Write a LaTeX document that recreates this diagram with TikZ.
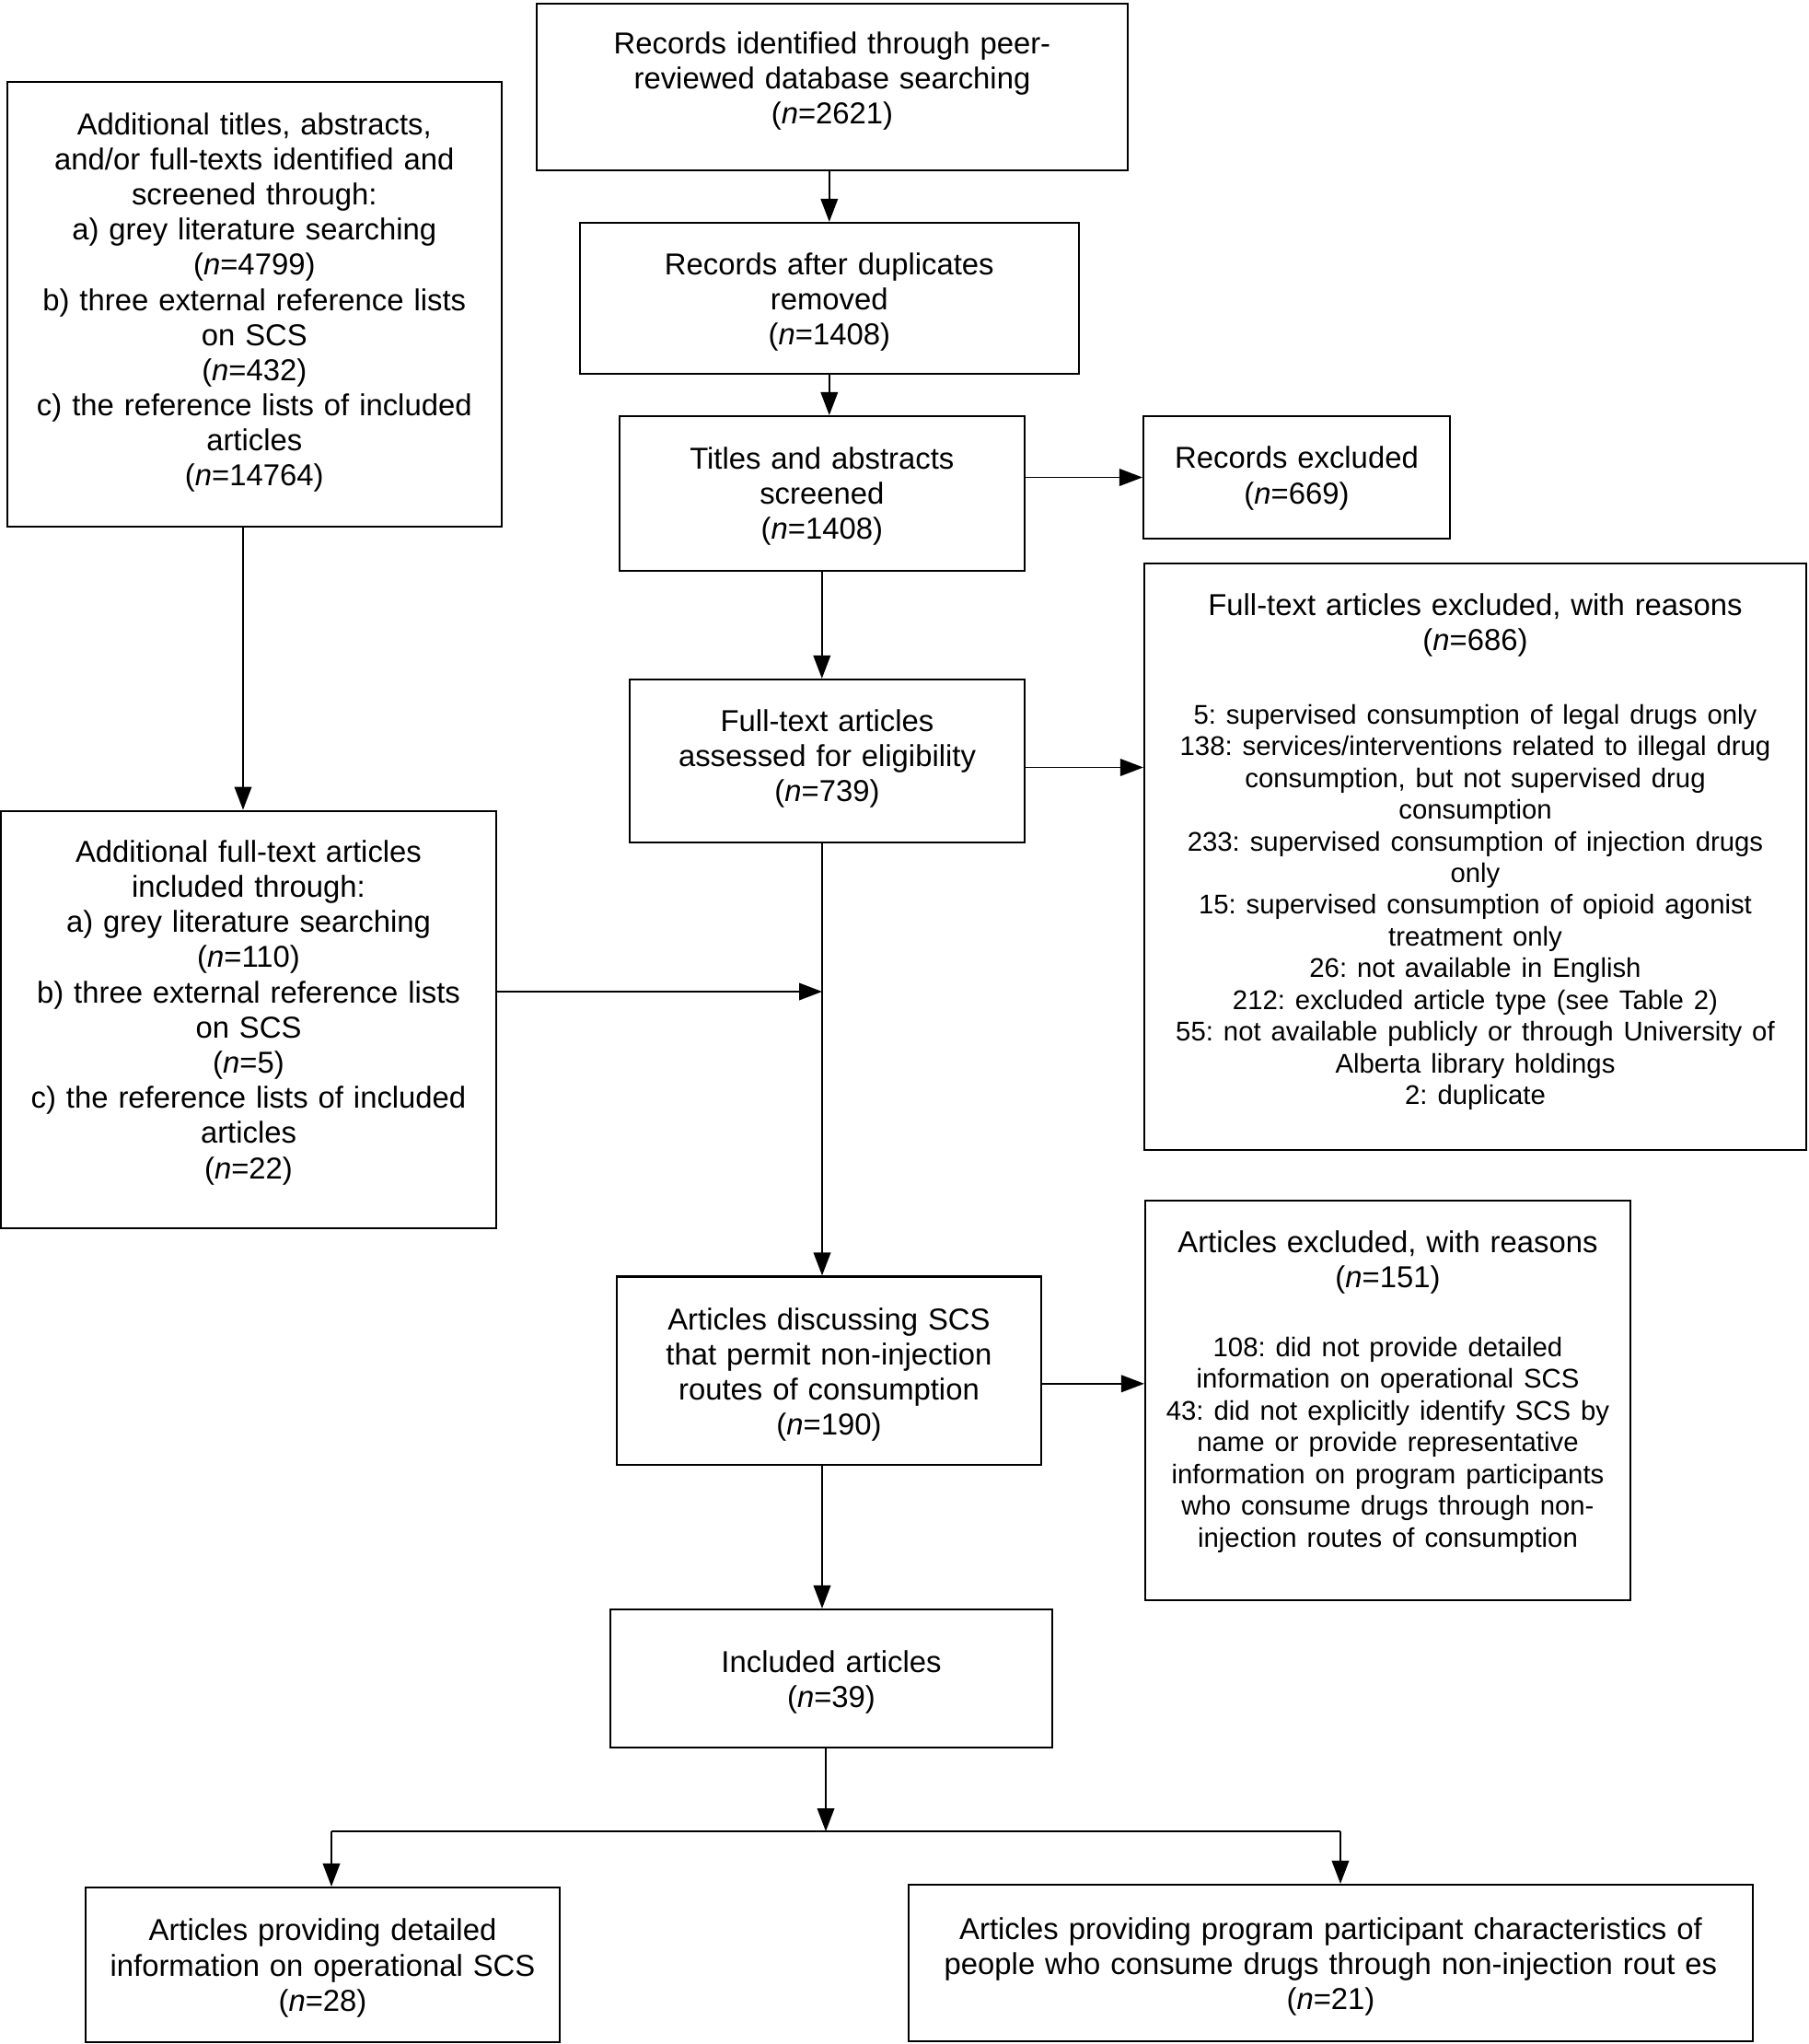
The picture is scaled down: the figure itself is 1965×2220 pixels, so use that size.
\documentclass[tikz,border=0pt]{standalone}
\usepackage{fontspec}
\setmainfont{Liberation Sans}
\usepackage{tikz}
\usetikzlibrary{arrows.meta}
\tikzset{
    box/.style 2 args={draw, line width=0.65pt, align=center, inner sep=0pt,
        text width=#1, minimum width=#1, minimum height=#2},
    flow/.style={line width=0.45pt, -{Triangle[length=7.5pt, width=5.6pt]}}}
\newcommand{\nval}[1]{(\textit{n}=#1)}
\newcommand{\reasonfont}{\fontsize{8.8}{10.33}\selectfont}
\newcommand{\liftby}[1]{\par\kern#1}
\frenchspacing

\begin{document}
\begin{tikzpicture}[x=0.3pt, y=-0.3pt, font=\fontsize{9.85}{11.46}\selectfont]
        \useasboundingbox (0,0) rectangle (1965,2220);

        % main column
        \node[box={192.6pt}{54.3pt}] (records) at (904,94.5) {Records identified through peer-\\reviewed database searching\\\nval{2621}\liftby{4pt}};
        \node[box={162.5pt}{49.2pt}] (dedup) at (900.8,324) {Records after duplicates\\removed\\\nval{1408}\liftby{-2.5pt}};
        \node[box={131.9pt}{50.4pt}] (screened) at (892.8,536) {Titles and abstracts\\screened\\\nval{1408}\liftby{-1.7pt}};
        \node[box={128.7pt}{53.1pt}] (eligible) at (898.5,826.5) {Full-text articles\\assessed for eligibility\\\nval{739}\liftby{1.5pt}};
        \node[box={138.3pt}{61.4pt}] (discussing) at (900.5,1488.8) {Articles discussing SCS\\that permit non-injection\\routes of consumption\\\nval{190}\liftby{-2.5pt}};
        \node[box={144pt}{45pt}] (included) at (903,1823) {Included articles\\\nval{39}\liftby{-2.5pt}};

        % left column
        \node[box={161pt}{144.9pt}] (greysearch) at (276.3,330.5) {Additional titles, abstracts,\\and/or full-texts identified and\\screened through:\\a) grey literature searching\\\nval{4799}\\b) three external reference lists\\on SCS\\\nval{432}\\c) the reference lists of included\\articles\\\nval{14764}\liftby{1.2pt}};
        \node[box={161.4pt}{136pt}] (greyfull) at (270,1107.3) {Additional full-text articles\\included through:\\a) grey literature searching\\\nval{110}\\b) three external reference lists\\on SCS\\\nval{5}\\c) the reference lists of included\\articles\\\nval{22}\liftby{4.6pt}};

        % exclusions
        \node[box={99.9pt}{39.9pt}] (excluded) at (1408.5,518.5) {Records excluded\\\nval{669}\liftby{-0.6pt}};
        \node[box={215.7pt}{191.1pt}] (fulltextout) at (1602.5,930.2) {Full-text articles excluded, with reasons\\\nval{686}\par\kern13.6pt
            \reasonfont 5: supervised consumption of legal drugs only\\
            138: services/interventions related to illegal drug\\
            consumption, but not supervised drug\\
            consumption\\
            233: supervised consumption of injection drugs\\
            only\\
            15: supervised consumption of opioid agonist\\
            treatment only\\
            26: not available in English\\
            212: excluded article type (see Table 2)\\
            55: not available publicly or through University of\\
            Alberta library holdings\\
            2: duplicate\liftby{3.1pt}};
        \node[box={158.1pt}{130.2pt}] (articlesout) at (1507.5,1521) {Articles excluded, with reasons\\\nval{151}\par\kern12.15pt
            \reasonfont 108: did not provide detailed\\
            information on operational SCS\\
            43: did not explicitly identify SCS by\\
            name or provide representative\\
            information on program participants\\
            who consume drugs through non-\\
            injection routes of consumption\liftby{5.8pt}};

        % outcomes
        \node[box={154.5pt}{50.4pt}] (operational) at (350.5,2134) {Articles providing detailed\\information on operational SCS\\\nval{28}\liftby{-2.1pt}};
        \node[box={275.1pt}{51pt}] (participants) at (1445.5,2132) {Articles providing program participant characteristics of\\people who consume drugs through non-injection rout es\\\nval{21}\liftby{-2.5pt}};

        \coordinate (join) at (893,1077);
        \coordinate (split) at (897,1989);
        \coordinate (splitL) at (360,1989);
        \coordinate (splitR) at (1456,1989);

        \draw[flow] (dedup.north |- records.south) -- (dedup.north);
        \draw[flow] (dedup.south) -- (dedup.south |- screened.north);
        \draw[flow] (screened.east |- excluded.west) -- (excluded.west);
        \draw[flow] (screened.south) -- (screened.south |- eligible.north);
        \draw[flow] ([yshift=-2.1pt]eligible.east) -- ([yshift=-2.1pt]eligible.east -| fulltextout.west);
        \draw[flow] (join |- eligible.south) -- (join |- discussing.north);
        \draw[flow] ([xshift=-1.8pt]greyfull.north |- greysearch.south) -- ([xshift=-1.8pt]greyfull.north);
        \draw[flow] (greyfull.east |- join) -- (join);
        \draw[flow] ([yshift=-4.2pt]discussing.east) -- ([yshift=-4.2pt]discussing.east -| articlesout.west);
        \draw[flow] (join |- discussing.south) -- (join |- included.north);
        \draw[flow] (included.south -| split) -- (split);
        \draw[line width=0.8pt] (splitL) -- (splitR);
        \draw[flow] (splitL) -- (splitL |- operational.north);
        \draw[flow] (splitR) -- (splitR |- participants.north);

\end{tikzpicture}
\end{document}
